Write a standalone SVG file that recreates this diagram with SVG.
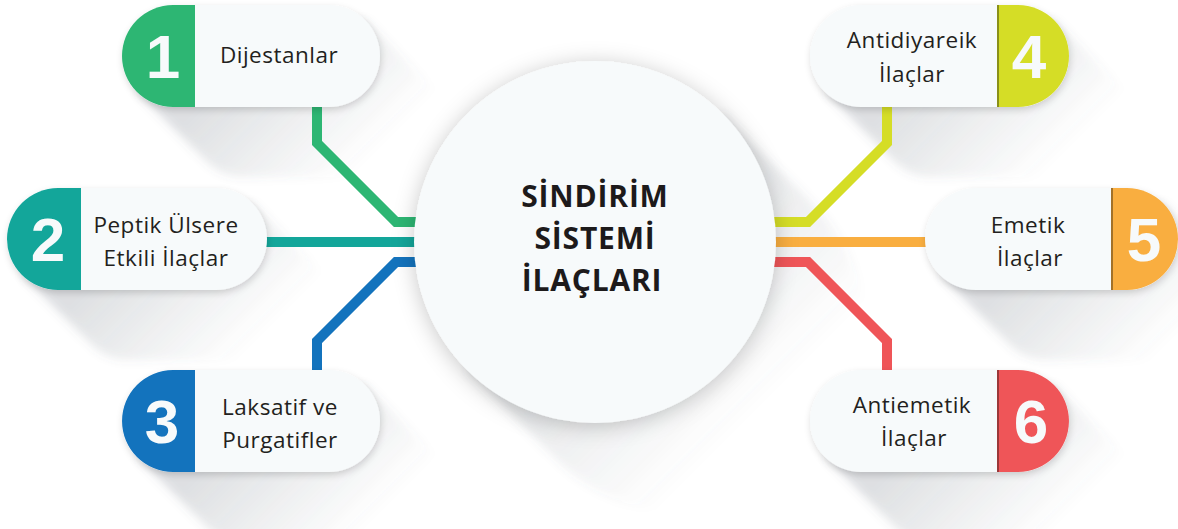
<svg xmlns="http://www.w3.org/2000/svg" width="1178" height="529" viewBox="0 0 1178 529">
  <style>
    .pill { fill: #f7fafb; }
    .lbl { font-family: "Open Sans", "Liberation Sans", sans-serif; font-size: 22.5px; fill: #231f20; text-anchor: middle; letter-spacing: 0.5px; }
    .num { font-family: "Liberation Sans", "Open Sans", sans-serif; font-weight: bold; font-size: 62px; fill: #f7fafb; text-anchor: middle; }
    .title { font-family: "Open Sans", "Liberation Sans", sans-serif; font-weight: bold; font-size: 30px; fill: #1d1a1b; text-anchor: middle; letter-spacing: 0.8px; }
    .con { fill: none; stroke-width: 10; stroke-linejoin: miter; stroke-linecap: butt; }
    .sep { stroke: #000; stroke-opacity: 0.35; stroke-width: 2; }
    .ls { filter: url(#blur); }
  </style>
  <defs>
    <filter id="blur" x="-20%" y="-20%" width="140%" height="140%">
      <feGaussianBlur stdDeviation="5"/>
    </filter>
    <filter id="pillShadow" x="-20%" y="-30%" width="140%" height="170%">
      <feDropShadow dx="1" dy="3" stdDeviation="3.5" flood-color="#000" flood-opacity="0.16"/>
    </filter>
    <filter id="circShadow" x="-30%" y="-30%" width="160%" height="160%">
      <feDropShadow dx="0" dy="3" stdDeviation="11" flood-color="#000" flood-opacity="0.22"/>
    </filter>
    <linearGradient id="g1" gradientUnits="userSpaceOnUse" x1="251" y1="56" x2="361" y2="166">
      <stop offset="0" stop-color="#5a6470" stop-opacity="0.2"/><stop offset="1" stop-color="#5a6470" stop-opacity="0"/>
    </linearGradient>
    <linearGradient id="g2" gradientUnits="userSpaceOnUse" x1="137" y1="239" x2="247" y2="349">
      <stop offset="0" stop-color="#5a6470" stop-opacity="0.2"/><stop offset="1" stop-color="#5a6470" stop-opacity="0"/>
    </linearGradient>
    <linearGradient id="g3" gradientUnits="userSpaceOnUse" x1="251" y1="421" x2="361" y2="531">
      <stop offset="0" stop-color="#5a6470" stop-opacity="0.2"/><stop offset="1" stop-color="#5a6470" stop-opacity="0"/>
    </linearGradient>
    <linearGradient id="g4" gradientUnits="userSpaceOnUse" x1="940" y1="56" x2="1050" y2="166">
      <stop offset="0" stop-color="#5a6470" stop-opacity="0.2"/><stop offset="1" stop-color="#5a6470" stop-opacity="0"/>
    </linearGradient>
    <linearGradient id="g5" gradientUnits="userSpaceOnUse" x1="1051" y1="239" x2="1161" y2="349">
      <stop offset="0" stop-color="#5a6470" stop-opacity="0.2"/><stop offset="1" stop-color="#5a6470" stop-opacity="0"/>
    </linearGradient>
    <linearGradient id="g6" gradientUnits="userSpaceOnUse" x1="940" y1="421" x2="1050" y2="531">
      <stop offset="0" stop-color="#5a6470" stop-opacity="0.2"/><stop offset="1" stop-color="#5a6470" stop-opacity="0"/>
    </linearGradient>
    <linearGradient id="gc" gradientUnits="userSpaceOnUse" x1="595" y1="242" x2="760" y2="407">
      <stop offset="0" stop-color="#5a6470" stop-opacity="0.2"/><stop offset="1" stop-color="#5a6470" stop-opacity="0"/>
    </linearGradient>
  </defs>
  <rect width="1178" height="529" fill="#ffffff"/>

  <!-- long shadows -->
  <g id="shadows">
    <path class="ls" fill="url(#g1)" d="M243,75 H399 A51,51 0 0 1 399,177 H243 A51,51 0 0 1 243,75 Z M365,20 L435,90 L207,162 L137,92 Z"/>
    <path class="ls" fill="url(#g2)" d="M128,258 H286 A51,51 0 0 1 286,360 H128 A51,51 0 0 1 128,258 Z M252,203 L322,273 L92,345 L22,275 Z"/>
    <path class="ls" fill="url(#g3)" d="M243,440 H399 A51,51 0 0 1 399,542 H243 A51,51 0 0 1 243,440 Z M365,385 L435,455 L207,527 L137,457 Z"/>
    <path class="ls" fill="url(#g4)" d="M931,75 H1088 A51,51 0 0 1 1088,177 H931 A51,51 0 0 1 931,75 Z M1054,20 L1124,90 L895,162 L825,92 Z"/>
    <path class="ls" fill="url(#g5)" d="M1046,258 H1197 A51,51 0 0 1 1197,360 H1046 A51,51 0 0 1 1046,258 Z M1163,203 L1233,273 L1010,345 L940,275 Z"/>
    <path class="ls" fill="url(#g6)" d="M931,440 H1088 A51,51 0 0 1 1088,542 H931 A51,51 0 0 1 931,440 Z M1054,385 L1124,455 L895,527 L825,457 Z"/>
    <path class="ls" fill="url(#gc)" d="M504,332 A181,181 0 1 1 866,332 A181,181 0 1 1 504,332 Z M723,114 L813,204 L557,460 L467,370 Z"/>
  </g>

  <!-- connectors -->
  <g id="connectors">
    <path class="con" stroke="#2db673" d="M317,105 V143 L396,222 H420"/>
    <path class="con" stroke="#13a69a" d="M265,242 H420"/>
    <path class="con" stroke="#1373bd" d="M420,262 H396 L317,341 V372"/>
    <path class="con" stroke="#d5dd26" d="M887,105 V143 L808,222 H770"/>
    <path class="con" stroke="#f9ae40" d="M770,242 H927"/>
    <path class="con" stroke="#ef5558" d="M770,262 H808 L887,341 V372"/>
  </g>

  <!-- center -->
  <g id="center">
    <circle cx="595" cy="242" r="181" fill="#f7fafb" filter="url(#circShadow)"/>
    <text class="title" x="595" y="207">SİNDİRİM</text>
    <text class="title" x="595" y="249">SİSTEMİ</text>
    <text class="title" x="592" y="291">İLAÇLARI</text>
  </g>

  <!-- node 1 -->
  <g id="node1">
    <rect class="pill" x="122" y="5" width="258" height="102" rx="51" filter="url(#pillShadow)"/>
    <path fill="#2db673" d="M195,5 H173 A51,51 0 0 0 173,107 H195 Z"/>
    <text class="num" x="163" y="78">1</text>
    <text class="lbl" x="279" y="63">Dijestanlar</text>
  </g>

  <!-- node 2 -->
  <g id="node2">
    <rect class="pill" x="7" y="188" width="260" height="102" rx="51" filter="url(#pillShadow)"/>
    <path fill="#13a69a" d="M81,188 H58 A51,51 0 0 0 58,290 H81 Z"/>
    <text class="num" x="48" y="261">2</text>
    <text class="lbl" x="166" y="233">Peptik Ülsere</text>
    <text class="lbl" x="166" y="266">Etkili İlaçlar</text>
  </g>

  <!-- node 3 -->
  <g id="node3">
    <rect class="pill" x="122" y="370" width="258" height="102" rx="51" filter="url(#pillShadow)"/>
    <path fill="#1373bd" d="M195,370 H173 A51,51 0 0 0 173,472 H195 Z"/>
    <text class="num" x="162" y="443">3</text>
    <text class="lbl" x="280" y="415">Laksatif ve</text>
    <text class="lbl" x="280" y="448">Purgatifler</text>
  </g>

  <!-- node 4 -->
  <g id="node4">
    <rect class="pill" x="810" y="5" width="259" height="102" rx="51" filter="url(#pillShadow)"/>
    <path fill="#d5dd26" d="M997,5 H1018 A51,51 0 0 1 1018,107 H997 Z"/>
    <line class="sep" x1="998" y1="5" x2="998" y2="107"/>
    <text class="num" x="1029" y="78">4</text>
    <text class="lbl" x="912" y="48">Antidiyareik</text>
    <text class="lbl" x="912" y="82">İlaçlar</text>
  </g>

  <!-- node 5 -->
  <g id="node5">
    <rect class="pill" x="925" y="188" width="253" height="102" rx="51" filter="url(#pillShadow)"/>
    <path fill="#f9ae40" d="M1111,188 H1127 A51,51 0 0 1 1127,290 H1111 Z"/>
    <line class="sep" x1="1112" y1="188" x2="1112" y2="290"/>
    <text class="num" x="1144" y="261">5</text>
    <text class="lbl" x="1028" y="233">Emetik</text>
    <text class="lbl" x="1030" y="266">İlaçlar</text>
  </g>

  <!-- node 6 -->
  <g id="node6">
    <rect class="pill" x="810" y="370" width="259" height="102" rx="51" filter="url(#pillShadow)"/>
    <path fill="#ef5558" d="M997,370 H1018 A51,51 0 0 1 1018,472 H997 Z"/>
    <line class="sep" x1="998" y1="370" x2="998" y2="472"/>
    <text class="num" x="1031" y="443">6</text>
    <text class="lbl" x="912" y="413">Antiemetik</text>
    <text class="lbl" x="914" y="446">İlaçlar</text>
  </g>
</svg>
